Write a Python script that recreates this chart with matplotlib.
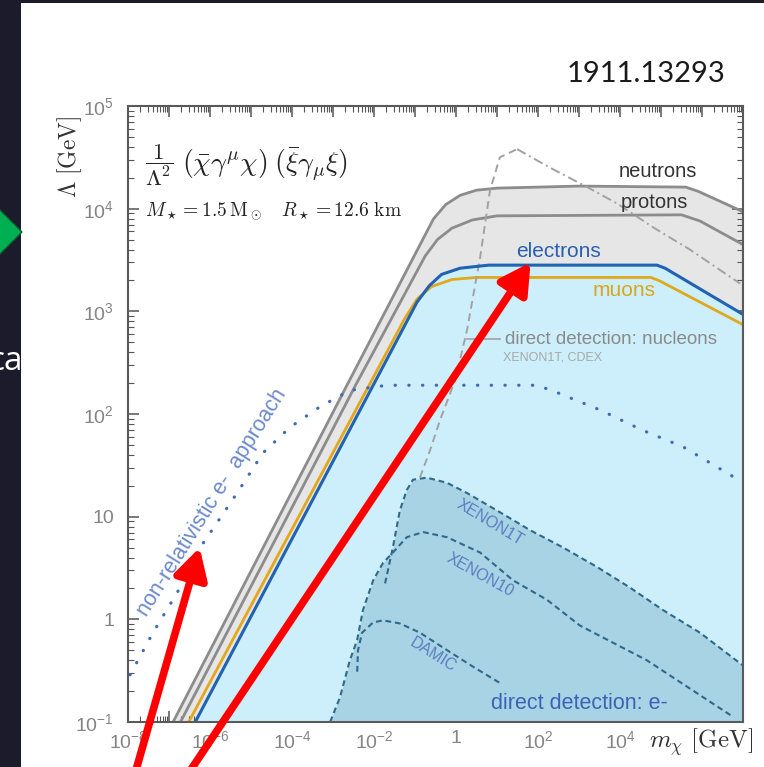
import numpy as np
import matplotlib
matplotlib.use("Agg")
import matplotlib.pyplot as plt
from matplotlib.patches import Rectangle, Polygon
from matplotlib.ticker import FixedLocator, LogLocator, FuncFormatter, NullFormatter

plt.rcParams['mathtext.fontset'] = 'cm'
plt.rcParams['font.family'] = ['Liberation Sans', 'DejaVu Sans']

# ---- curves: log10(m_chi/GeV), log10(Lambda/GeV) ----
neutrons_logm = [-6.9, -2.66, -0.55, -0.25, 0.1, 0.5, 1.0, 3.0, 5.6, 5.9, 7.0]
neutrons_logL = [-1.0, 2.28, 3.9, 4.04, 4.13, 4.18, 4.2, 4.22, 4.21, 4.17, 3.97]

protons_logm = [-6.72, -2.45, -0.75, -0.45, -0.1, 0.4, 1.0, 5.5, 5.95, 7.0]
protons_logL = [-1.0, 2.28, 3.54, 3.7, 3.81, 3.89, 3.93, 3.94, 3.88, 3.65]

electrons_logm = [-6.36, -2.02, -0.95, -0.65, -0.35, 0.1, 0.8, 4.9, 5.1, 7.0]
electrons_logL = [-1.0, 2.28, 3.09, 3.25, 3.36, 3.42, 3.45, 3.45, 3.42, 2.97]

muons_logm = [-6.52, -2.12, -1.25, -0.95, -0.6, -0.1, 0.5, 4.75, 4.95, 7.0]
muons_logL = [-1.0, 2.28, 2.93, 3.12, 3.24, 3.31, 3.33, 3.33, 3.3, 2.87]

# direct detection (nucleons), rising part dashed, falling part dash-dot
ddn_rise_logm = [-0.88, -0.63, -0.39, -0.02, 0.27, 0.59, 0.83, 1.07, 1.49]
ddn_rise_logL = [1.38, 1.65, 1.94, 2.33, 2.82, 3.53, 4.18, 4.50, 4.58]
ddn_fall_logm = [1.49, 2.29, 3.2, 3.93, 4.8, 5.71, 6.93]
ddn_fall_logL = [4.58, 4.40, 4.21, 4.05, 3.82, 3.6, 3.27]

# non-relativistic electron approach (dotted)
nonrel_logm = [-7.95, -7.39, -6.8, -6.17, -5.34, -4.71, -4.05, -3.32, -2.59, -1.68,
               1.98, 2.46, 3.51, 4.56, 5.54, 6.76]
nonrel_logL = [-0.54, -0.13, 0.26, 0.74, 1.23, 1.62, 1.87, 2.07, 2.23, 2.28,
               2.28, 2.21, 2.04, 1.84, 1.68, 1.39]

# direct detection (electrons)
xenon1t_logm = [-1.73, -1.54, -1.37, -1.2, -1.05, -0.71, -0.22, 0.27, 1.0, 1.8,
                2.61, 3.44, 4.24, 5.05, 5.95, 7.0]
xenon1t_logL = [0.35, 0.7, 1.06, 1.26, 1.36, 1.38, 1.33, 1.23, 1.06, 0.87,
                0.7, 0.51, 0.31, 0.09, -0.13, -0.45]

xenon10_logm = [-3.07, -2.83, -2.59, -2.41, -2.27, -2.02, -1.78, -1.54, -1.2, -0.8,
                -0.22, 0.59, 1.39, 2.22, 3.02, 4.66, 5.88, 6.76]
xenon10_logL = [-1.0, -0.76, -0.4, -0.2, 0.09, 0.38, 0.55, 0.65, 0.8, 0.85,
                0.8, 0.65, 0.38, 0.19, -0.06, -0.4, -0.72, -0.95]

damic_logm = [-2.41, -2.39, -2.29, -2.02, -1.78, -1.37, -0.88, -0.22, 0.41, 1.07]
damic_logL = [-0.51, -0.3, -0.13, -0.03, -0.01, -0.04, -0.13, -0.3, -0.46, -0.62]

arrow_tips = [(5.6e-7, 5.0), (66.0, 3000.0)]
arrow_tails_px = [(134, -10), (186, -10)]


def m(v):
    return 10.0 ** np.asarray(v)


W, H = 764, 767


def fp(x, y):
    return (x / W, 1 - y / H)


fig = plt.figure(figsize=(W / 100, H / 100), dpi=100, facecolor='#1c1b2c')

# slide decoration
fig.text(*fp(23, 362), 'ca', color='white', fontsize=24, family='Open Sans',
         ha='right', va='center', zorder=-3)
fig.add_artist(Rectangle(fp(21, H), 1 - 21 / W, 1 - 3 / H, transform=fig.transFigure,
                         facecolor='white', edgecolor='none', zorder=-2))
fig.add_artist(Polygon([fp(-28, 232), fp(-3, 207), fp(22, 232), fp(-3, 257)],
                       closed=True, transform=fig.transFigure, facecolor='#00b050',
                       edgecolor='#0b5e34', lw=1, zorder=-1))

ax = fig.add_axes([128 / W, 1 - 722 / H, 615 / W, 616 / H])
ax.set_xscale('log')
ax.set_yscale('log')
ax.set_xlim(1e-8, 1e7)
ax.set_ylim(0.1, 1e5)

gray_fill = '#e6e6e6'
blue_fill = '#cdeffb'
dark_fill = '#a8d3e5'

ax.fill_between(m(neutrons_logm), m(neutrons_logL), 0.1, color=gray_fill, lw=0, zorder=1)
ax.fill_between(m(electrons_logm), m(electrons_logL), 0.1, color=blue_fill, lw=0, zorder=2)
ax.fill_between(m(xenon1t_logm), m(xenon1t_logL), 0.1, color=dark_fill, lw=0, zorder=3)
ax.fill_between(m(xenon10_logm), m(xenon10_logL), 0.1, color=dark_fill, lw=0, zorder=3)

ax.plot(m(neutrons_logm), m(neutrons_logL), color='#8c8c8c', lw=2, zorder=5)
ax.plot(m(protons_logm), m(protons_logL), color='#8c8c8c', lw=2, zorder=5)
ax.plot(m(muons_logm), m(muons_logL), color='#e2a81c', lw=2, zorder=6)
ax.plot(m(electrons_logm), m(electrons_logL), color='#2163b3', lw=2.2, zorder=7)

dd = dict(color='#2f6a8a', lw=1.5, zorder=6)
ax.plot(m(xenon1t_logm), m(xenon1t_logL), ls=(0, (2.8, 1.8)), **dd)
ax.plot(m(xenon10_logm), m(xenon10_logL), ls=(0, (2.8, 1.8)), **dd)
ax.plot(m(damic_logm), m(damic_logL), ls=(0, (2.8, 1.8)), **dd)

ax.plot(m(ddn_rise_logm), m(ddn_rise_logL), color='#a2a2a2', lw=1.4, ls=(0, (4, 2.5)), zorder=6)
ax.plot(m(ddn_fall_logm), m(ddn_fall_logL), color='#a2a2a2', lw=1.4, ls=(0, (5, 2, 1, 2)), zorder=6)
ax.plot(m([0.27, 1.07]), m([2.73, 2.73]), color='#a2a2a2', lw=1.2, zorder=6)

ax.plot(m(nonrel_logm), m(nonrel_logL), color='#3d6cb5', lw=2.3,
        ls=(0, (0.1, 4.2)), dash_capstyle='round', zorder=8)

# labels
ax.text(m(4.93), m(4.365), 'neutrons', fontsize=14.5, color='#333333', ha='center', va='center', zorder=9)
ax.text(m(4.83), m(4.06), 'protons', fontsize=14.5, color='#333333', ha='center', va='center', zorder=9)
ax.text(m(2.49), m(3.58), 'electrons', fontsize=15, color='#2a5fb0', ha='center', va='center', zorder=9)
ax.text(m(4.10), m(3.20), 'muons', fontsize=15, color='#dba51c', ha='center', va='center', zorder=9)
ax.text(m(1.2), m(2.73), 'direct detection: nucleons', fontsize=13.5, color='#8a8a8a',
        ha='left', va='center', zorder=9)
ax.text(m(1.15), m(2.55), 'XENON1T, CDEX', fontsize=9, color='#a8a8a8', ha='left', va='center', zorder=9)
ax.text(m(0.83), m(0.94), 'XENON1T', fontsize=11.5, color='#5b7dc0', rotation=-31,
        ha='center', va='center', rotation_mode='anchor', zorder=9)
ax.text(m(0.585), m(0.43), 'XENON10', fontsize=11.5, color='#5b7dc0', rotation=-29,
        ha='center', va='center', rotation_mode='anchor', zorder=9)
ax.text(m(-0.56), m(-0.35), 'DAMIC', fontsize=11.5, color='#5b7dc0', rotation=-32,
        ha='center', va='center', rotation_mode='anchor', zorder=9)
ax.text(m(3.02), m(-0.82), 'direct detection: e-', fontsize=15.5, color='#3b63b5',
        ha='center', va='center', zorder=9)
ax.text(m(-5.95), m(1.14), 'non-relativistic e-  approach', fontsize=15.5, color='#6a89cc',
        rotation=58, ha='center', va='center', rotation_mode='anchor', zorder=9)

ax.text(0.028, 0.904, r'$\dfrac{1}{\Lambda^2}$',
        transform=ax.transAxes, fontsize=16.5, color='#222222', ha='left', va='center', zorder=9)
ax.text(0.088, 0.906, r'$(\bar{\chi}\gamma^\mu\chi)\;(\bar{\xi}\gamma_\mu\xi)$',
        transform=ax.transAxes, fontsize=20, color='#222222', ha='left', va='center', zorder=9)
ax.text(0.028, 0.829, r'$M_\star = 1.5\,\mathrm{M}_\odot\quad R_\star = 12.6\ \mathrm{km}$',
        transform=ax.transAxes, fontsize=14, color='#222222', ha='left', va='center', zorder=9)

# axes styling
for s in ax.spines.values():
    s.set_color('#5a5a5a')
    s.set_linewidth(1.5)
    s.set_zorder(10)

ax.xaxis.set_major_locator(FixedLocator(10.0 ** np.arange(-8, 8)))
ax.yaxis.set_major_locator(FixedLocator(10.0 ** np.arange(-1, 6)))
for axis in (ax.xaxis, ax.yaxis):
    axis.set_minor_locator(LogLocator(base=10, subs=np.arange(2, 10), numticks=100))
    axis.set_minor_formatter(NullFormatter())


def xfmt(v, pos):
    e = int(round(np.log10(v)))
    if e % 2 or e > 4:
        return ''
    if e == 0:
        return '1'
    return r'$\mathregular{10^{%d}}$' % e


def yfmt(v, pos):
    e = int(round(np.log10(v)))
    if e == 0:
        return '1'
    if e == 1:
        return '10'
    return r'$\mathregular{10^{%d}}$' % e


ax.xaxis.set_major_formatter(FuncFormatter(xfmt))
ax.yaxis.set_major_formatter(FuncFormatter(yfmt))
ax.tick_params(which='both', direction='in', top=True, right=True, color='#555555')
ax.tick_params(which='major', length=8, width=1.1, labelsize=14, labelcolor='#858585')
ax.tick_params(which='minor', length=4, width=0.8)
ax.tick_params(axis='x', which='major', pad=6)
ax.tick_params(axis='y', which='major', pad=10)

fig.text(*fp(70, 157), r'$\Lambda\ [\mathrm{GeV}]$', rotation=90, fontsize=17,
         color='#333333', ha='center', va='center')
fig.text(*fp(701, 742), r'$m_\chi\ [\mathrm{GeV}]$', fontsize=18, color='#333333',
         ha='center', va='center')
fig.text(*fp(646, 74), '1911.13293', fontsize=21, family='Lato', color='#1a1a1a',
         ha='center', va='center')

# red arrows drawn on the slide
for tip, tail in zip(arrow_tips, arrow_tails_px):
    ax.annotate('', xy=tip, xycoords='data', xytext=tail, textcoords='figure pixels',
                arrowprops=dict(arrowstyle='-|>,head_length=0.65,head_width=0.36',
                                mutation_scale=28, lw=5.5, color='#ff0000',
                                shrinkA=0, shrinkB=0),
                annotation_clip=False, zorder=20)

fig.savefig('out.png', dpi=100, facecolor=fig.get_facecolor())
